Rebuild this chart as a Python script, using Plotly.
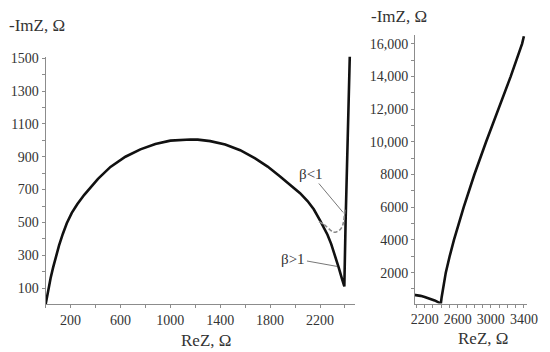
import plotly.graph_objects as go

# impedance spectrum
re_arc = [0, 10, 22, 40, 60, 82, 108, 138, 170, 210, 255, 310, 370, 420, 520,
          640, 760, 880, 1000, 1100, 1160, 1220, 1320, 1440, 1560, 1680, 1780, 1880,
          1960, 2040, 2100, 2150, 2200, 2230, 2260, 2290, 2320, 2350, 2375, 2395]
im_arc = [0, 45, 95, 160, 225, 290, 360, 430, 495, 558, 612, 668, 722, 765, 838,
          900, 945, 978, 998, 1005, 1005, 1004, 995, 975, 940, 890, 840, 780,
          730, 678, 630, 580, 512, 470, 425, 368, 300, 225, 160, 110]

re_tail = [2405, 2420, 2435, 2455, 2502, 2554, 2672, 2801, 2943, 3092, 3241, 3379, 3400]
im_tail = [500, 1000, 1500, 2000, 3000, 4000, 6000, 8000, 10000, 12000, 14000, 16000, 16450]

# beta < 1 branch (dashed)
re_beta = [2192, 2230, 2258, 2285, 2309, 2335, 2362, 2380, 2388, 2400]
im_beta = [505, 488, 471, 452, 441, 444, 457, 480, 501, 581]

left_xticks = [200, 600, 1000, 1400, 1800, 2200]
left_yticks = [100, 300, 500, 700, 900, 1100, 1300, 1500]
right_xticks = [2200, 2600, 3000, 3400]
right_yticks = [2000, 4000, 6000, 8000, 10000, 12000, 14000, 16000]
right_ylabels = ["2000", "4000", "6000", "8000", "10,000", "12,000", "14,000", "16,000"]

re_all = re_arc + re_tail
im_all = im_arc + im_tail

FONT = "Liberation Serif"
AX = '#8c8c8c'
TXT = '#333333'

fig = go.Figure()

for xa, ya in [('x', 'y'), ('x2', 'y2')]:
    fig.add_trace(go.Scatter(
        x=re_all, y=im_all, mode='lines', xaxis=xa, yaxis=ya,
        line=dict(color='#111111', width=2.6), showlegend=False, hoverinfo='skip'
    ))

fig.add_trace(go.Scatter(
    x=re_beta, y=im_beta, mode='lines', xaxis='x', yaxis='y',
    line=dict(color='#8a8a8a', width=1.6, dash='4px,2px', shape='spline'),
    showlegend=False, hoverinfo='skip'
))

axis_common = dict(
    showgrid=False, zeroline=False, showline=True, linecolor=AX, linewidth=1,
    ticks='outside', ticklen=3, tickcolor=AX, tickwidth=1,
    tickfont=dict(family=FONT, size=14, color=TXT),
)

fig.update_layout(
    width=550, height=352,
    paper_bgcolor='white', plot_bgcolor='white',
    margin=dict(l=0, r=0, t=0, b=0),
    xaxis=dict(axis_common, domain=[0.0776, 0.6545], range=[0, 2479],
               tickvals=left_xticks, anchor='y',
               minor=dict(dtick=200, tick0=0, ticks='outside', ticklen=3, tickcolor=AX)),
    yaxis=dict(axis_common, domain=[0.139, 0.853], range=[4, 1508],
               tickvals=left_yticks, anchor='x',
               minor=dict(dtick=100, tick0=0, ticks='outside', ticklen=3, tickcolor=AX)),
    xaxis2=dict(axis_common, domain=[0.7667, 0.9764], range=[2082, 3442],
                tickvals=right_xticks, anchor='y2',
                minor=dict(dtick=100, tick0=0, ticks='outside', ticklen=3, tickcolor=AX)),
    yaxis2=dict(axis_common, domain=[0.140, 0.9148], range=[110, 16500],
                tickvals=right_yticks, ticktext=right_ylabels, anchor='x2',
                minor=dict(dtick=1000, tick0=0, ticks='outside', ticklen=3, tickcolor=AX)),
)

title_font = dict(family=FONT, size=17, color=TXT)
for txt, x, y in [("-ImZ, Ω", 34, 20), ("ReZ, Ω", 207, 340),
                  ("-ImZ, Ω", 405, 11), ("ReZ, Ω", 491, 338)]:
    fig.add_annotation(text=txt, xref='paper', yref='paper',
                       x=x / 550, y=1 - y / 352, showarrow=False,
                       xanchor='center', yanchor='middle', font=title_font)

# beta labels with leader lines
for txt, tip, lab in [("β<1", (2385, 561), (2127, 795)),
                      ("β>1", (2338, 232), (1987, 280))]:
    fig.add_annotation(text=txt, x=tip[0], y=tip[1], ax=lab[0], ay=lab[1],
                       xref='x', yref='y', axref='x', ayref='y',
                       showarrow=True, arrowhead=0, arrowwidth=1, arrowcolor='#777777',
                       font=dict(family=FONT, size=15, color='#333333'))

# page body has a default margin; drop it so the figure sits at 0,0
fig.write_html("out.html", config={'displayModeBar': False},
               post_script="document.body.style.margin='0';")
